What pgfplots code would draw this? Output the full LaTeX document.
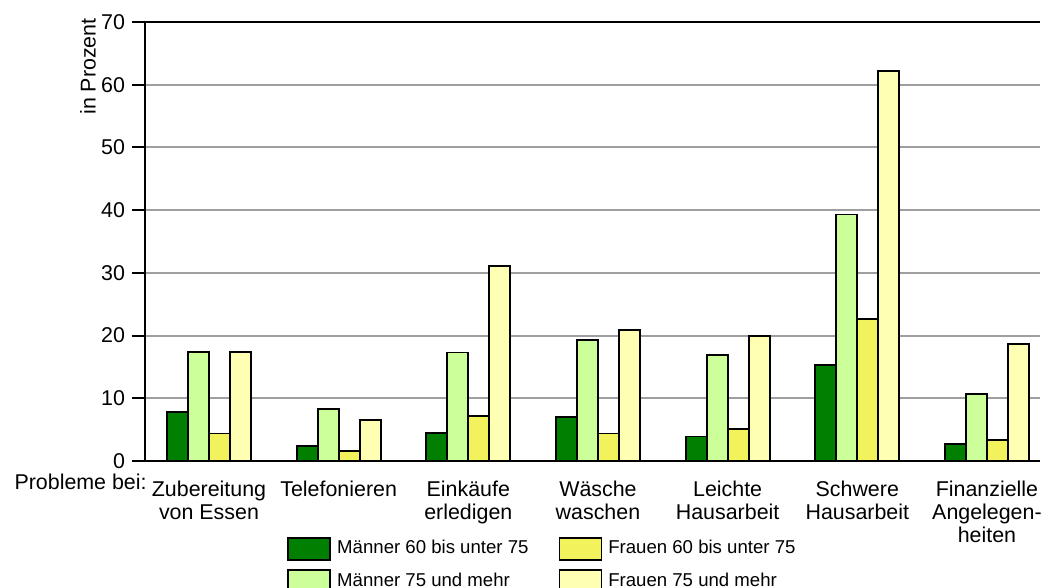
\documentclass[border=0pt]{standalone}
\usepackage{fontspec}
\setmainfont{Liberation Sans}
\usepackage{pgfplots}
\usepackage{pgfplotstable}
\pgfplotsset{compat=1.18}
\definecolor{cA}{HTML}{007F00}
\definecolor{cB}{HTML}{CCFF99}
\definecolor{cC}{HTML}{F2F25C}
\definecolor{cD}{HTML}{FFFFB3}
\pgfplotstableread{
x a b c d
0 7.8 17.4 4.4 17.4
1 2.4 8.3 1.6 6.6
2 4.5 17.3 7.2 31.1
3 7.0 19.3 4.4 20.9
4 3.9 16.9 5.1 19.9
5 15.3 39.3 22.6 62.2
6 2.7 10.7 3.4 18.7
}\data
\newcommand{\tf}{\fontsize{10.7}{11.5}\selectfont}
\begin{document}
\begin{tikzpicture}
\useasboundingbox (-72.5pt,-63.5pt) rectangle (448pt,230.5pt);
\begin{axis}[
  at={(0,0)}, anchor=south west,
  scale only axis, width=447.5pt, height=219.5pt,
  ymin=0, ymax=70, ytick={0,10,...,70},
  xmin=-0.4936, xmax=6.409,
  xtick={0,...,6},
  xticklabels={{Zubereitung\\von Essen},{Telefonieren},{Einkäufe\\erledigen},{Wäsche\\waschen},{Leichte\\Hausarbeit},{Schwere\\Hausarbeit},{Finanzielle\\Angelegen-\\heiten}},
  xticklabel style={align=center, font=\tf},
  yticklabel style={font=\tf},
  /pgf/number format/assume math mode=true,
  x tick style={draw=none},
  axis x line=box, axis y line=left,
  axis line style={-, black, line width=1pt},
  ytick pos=left, tick align=outside, major tick length=6.5pt,
  y tick style={black, line width=1pt},
  ymajorgrids, grid style={gray!75, line width=1pt},
  ybar=0pt, bar width=10.5pt,
  legend columns=2, transpose legend,
  legend cell align=left,
  legend style={draw=none, fill=none, inner sep=0pt, at={(0.1587,-0.1709)}, anchor=north west,
    font=\fontsize{9.3}{10.5}\selectfont,
    nodes={inner sep=2pt}, row sep=4pt,
    /tikz/every even column/.append style={column sep=13pt}},
  lg/.style={legend image code/.code={\draw[##1, line width=0.9pt] (0pt,-5.5pt) rectangle (21pt,5.5pt); \path (22pt,0pt);}},
]
\addplot[fill=cA, draw=black, line width=0.9pt, lg] table[x=x,y=a]{\data};
\addplot[fill=cB, draw=black, line width=0.9pt, lg] table[x=x,y=b]{\data};
\addplot[fill=cC, draw=black, line width=0.9pt, lg] table[x=x,y=c]{\data};
\addplot[fill=cD, draw=black, line width=0.9pt, lg] table[x=x,y=d]{\data};
\legend{Männer 60 bis unter 75, Männer 75 und mehr, Frauen 60 bis unter 75, Frauen 75 und mehr}
\end{axis}
\node[anchor=base east, inner sep=0pt, font=\tf] at (1pt,-14.5pt) {Probleme bei:};
\node[rotate=90, anchor=east, inner sep=0pt, font=\tf] at (-28.5pt,221.5pt) {in Prozent};
\end{tikzpicture}
\end{document}
